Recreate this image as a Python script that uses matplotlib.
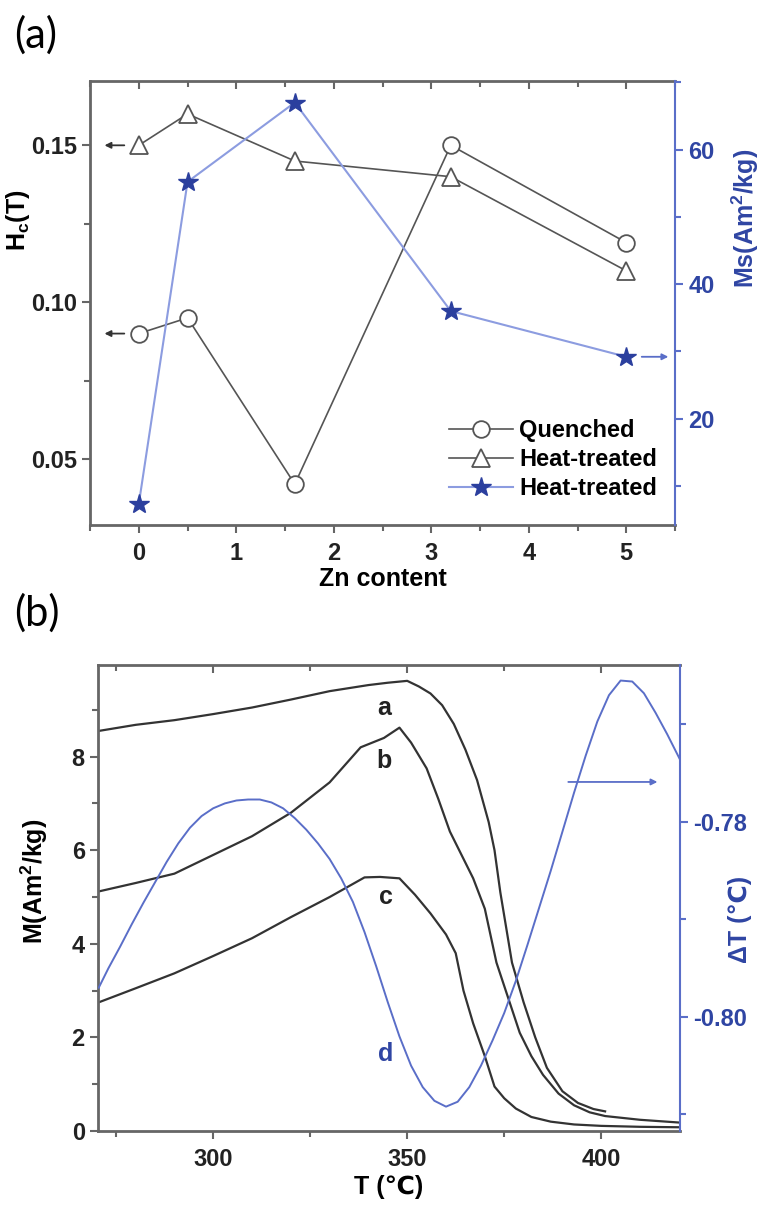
import matplotlib
matplotlib.use('Agg')
import matplotlib.pyplot as plt
from matplotlib.ticker import MultipleLocator, FormatStrFormatter

plt.rcParams['font.family'] = ['Liberation Sans', 'DejaVu Sans']
plt.rcParams['font.weight'] = 'bold'
plt.rcParams['axes.labelweight'] = 'bold'
plt.rcParams['mathtext.fontset'] = 'custom'
plt.rcParams['mathtext.rm'] = 'Liberation Sans:bold'
plt.rcParams['mathtext.bf'] = 'Liberation Sans:bold'
plt.rcParams['mathtext.default'] = 'bf'

# ---- panel (a) data ----
zn = [0, 0.5, 1.6, 3.2, 5]
hc_quenched = [0.090, 0.095, 0.042, 0.150, 0.119]
hc_heat = [0.150, 0.160, 0.145, 0.140, 0.110]
ms_heat = [7.3, 55.2, 67.0, 36.0, 29.2]

# ---- panel (b) data ----
T_a = [270.5, 280, 290, 300, 310, 320, 330, 340, 345, 350, 353, 356, 359, 362,
       365, 368, 371, 372.5, 374, 377, 380, 383, 386, 390, 394, 398, 401]
M_a = [8.55, 8.68, 8.78, 8.91, 9.05, 9.22, 9.40, 9.53, 9.58, 9.62, 9.50, 9.35,
       9.10, 8.70, 8.15, 7.50, 6.60, 6.00, 5.10, 3.60, 2.75, 2.00, 1.35, 0.85,
       0.60, 0.47, 0.42]
T_b = [270.5, 280, 290, 300, 310, 320, 330, 338, 344, 348, 351, 355, 358, 361,
       364, 367, 370, 373, 376, 379, 382, 385, 389, 393, 397, 401, 410, 420.3]
M_b = [5.12, 5.30, 5.50, 5.90, 6.30, 6.80, 7.45, 8.20, 8.40, 8.62, 8.30, 7.75,
       7.10, 6.40, 5.90, 5.40, 4.75, 3.60, 2.85, 2.10, 1.60, 1.20, 0.80, 0.55,
       0.40, 0.32, 0.24, 0.18]
T_c = [270.5, 280, 290, 300, 310, 320, 330, 339, 343, 348, 352, 356, 360, 362.5,
       364.5, 367, 370, 372.5, 375, 378, 382, 387, 393, 400, 410, 420.3]
M_c = [2.75, 3.05, 3.37, 3.74, 4.12, 4.57, 5.00, 5.42, 5.43, 5.40, 5.05, 4.65,
       4.20, 3.80, 3.00, 2.30, 1.60, 0.95, 0.70, 0.48, 0.30, 0.20, 0.14, 0.11,
       0.09, 0.08]
T_d = [270.5, 273, 276, 279, 282, 285, 288, 291, 294, 297, 300, 303, 306, 309,
       312, 315, 318, 321, 324, 327, 330, 333, 336, 339, 342, 345, 348, 351, 354,
       357, 360, 363, 366, 369, 372, 375, 378, 381, 384, 387, 390, 393, 396, 399,
       402, 405, 408, 411, 414, 417, 420.3]
dT_d = [-0.7970, -0.7950, -0.7928, -0.7905, -0.7883, -0.7862, -0.7841, -0.7822,
        -0.7806, -0.7794, -0.7786, -0.7781, -0.7778, -0.7777, -0.7777, -0.7780,
        -0.7786, -0.7796, -0.7808, -0.7822, -0.7838, -0.7858, -0.7882, -0.7913,
        -0.7948, -0.7985, -0.8020, -0.8050, -0.8072, -0.8086, -0.8092, -0.8087,
        -0.8072, -0.8050, -0.8024, -0.7996, -0.7963, -0.7926, -0.7888, -0.7850,
        -0.7810, -0.7770, -0.7732, -0.7697, -0.7670, -0.7655, -0.7656, -0.7668,
        -0.7688, -0.7710, -0.7736]

gray = '#555555'
spine_gray = '#666666'
blue_dark = '#2b3f9e'
blue_line = '#8c9ce0'
blue_axis = '#5a6ec8'
blue_text = '#2f45a3'

fig = plt.figure(figsize=(7.63, 12.09), dpi=100)


def style_axes(ax, right_ax, xmaj, xmin):
    for s in ['left', 'bottom', 'top']:
        ax.spines[s].set_color(spine_gray)
        ax.spines[s].set_linewidth(2)
        right_ax.spines[s].set_visible(False)
    ax.spines['right'].set_visible(False)
    right_ax.spines['right'].set_color(blue_axis)
    right_ax.spines['right'].set_linewidth(1.5)
    ax.tick_params(which='both', direction='out', width=1.5, colors=spine_gray,
                   labelcolor='#222222', labelsize=17, top=False, right=False)
    ax.tick_params(axis='x', pad=6)
    ax.tick_params(which='major', length=6)
    ax.tick_params(which='minor', length=4)
    right_ax.tick_params(which='both', direction='out', width=1.5, colors=blue_axis,
                         labelcolor=blue_text, labelsize=17)
    right_ax.tick_params(which='major', length=6)
    right_ax.tick_params(which='minor', length=4)
    top = ax.secondary_xaxis('top')
    top.xaxis.set_major_locator(MultipleLocator(xmaj))
    top.xaxis.set_minor_locator(MultipleLocator(xmin))
    top.tick_params(which='both', direction='in', labeltop=False, width=1.5,
                    colors=spine_gray)
    top.tick_params(which='major', length=6)
    top.tick_params(which='minor', length=4)
    top.spines['top'].set_visible(False)


# ---------------- panel (a) ----------------
ax1 = fig.add_axes([0.118, 0.5658, 0.7667, 0.3672])
ax1.plot(zn, hc_quenched, color=gray, lw=1.2, marker='o', ms=12, mfc='white',
         mec=gray, mew=1.3, label='Quenched')
ax1.plot(zn, hc_heat, color=gray, lw=1.2, marker='^', ms=13, mfc='white',
         mec=gray, mew=1.3, label='Heat-treated')
ax1.set_xlim(-0.5, 5.5)
ax1.set_ylim(0.029, 0.1705)
ax1.xaxis.set_major_locator(MultipleLocator(1))
ax1.xaxis.set_minor_locator(MultipleLocator(0.5))
ax1.yaxis.set_major_locator(MultipleLocator(0.05))
ax1.yaxis.set_minor_locator(MultipleLocator(0.025))
ax1.yaxis.set_major_formatter(FormatStrFormatter('%.2f'))
ax1.set_xlabel('Zn content', fontsize=18, labelpad=2)
ax1.set_ylabel(r'H$_c$(T)', fontsize=18)
ax1.yaxis.set_label_coords(-0.1, 0.687)

ax1r = ax1.twinx()
ax1r.plot(zn, ms_heat, color=blue_line, lw=1.5, marker='*', ms=15, mfc=blue_dark,
          mec=blue_dark, label='Heat-treated')
ax1r.set_ylim(4.2, 70.2)
ax1r.yaxis.set_major_locator(MultipleLocator(20))
ax1r.yaxis.set_minor_locator(MultipleLocator(10))
ax1r.set_ylabel(r'Ms(Am$^2$/kg)', fontsize=18, color=blue_text)
ax1r.yaxis.set_label_coords(1.093, 0.69)
style_axes(ax1, ax1r, 1, 0.5)

# arrows pointing to the axes
for yv in [hc_heat[0], hc_quenched[0]]:
    ax1.annotate('', xy=(-0.38, yv), xytext=(-0.12, yv),
                 arrowprops=dict(arrowstyle='-|>', color='#333333', lw=1.3,
                                 mutation_scale=9))
ax1r.annotate('', xy=(5.46, ms_heat[-1]), xytext=(5.13, ms_heat[-1]),
              arrowprops=dict(arrowstyle='-|>', color=blue_axis, lw=1.3,
                              mutation_scale=9))

h1, l1 = ax1.get_legend_handles_labels()
h2, l2 = ax1r.get_legend_handles_labels()
ax1r.legend(h1 + h2, l1 + l2, loc='lower right', bbox_to_anchor=(0.985, 0.035),
            frameon=False, fontsize=17, handlelength=2.7, handletextpad=0.25,
            labelspacing=0.25, borderaxespad=0)

fig.text(0.018, 0.971, '(a)', fontsize=30, fontweight='normal',
         family=['Lato', 'DejaVu Sans'], va='center')

# ---------------- panel (b) ----------------
ax2 = fig.add_axes([0.1284, 0.0645, 0.7628, 0.3855])
ax2.plot(T_a, M_a, color='#333333', lw=1.6)
ax2.plot(T_b, M_b, color='#333333', lw=1.6)
ax2.plot(T_c, M_c, color='#333333', lw=1.6)
ax2.set_xlim(270.3, 420.3)
ax2.set_ylim(0, 9.96)
ax2.xaxis.set_major_locator(MultipleLocator(50))
ax2.xaxis.set_minor_locator(MultipleLocator(25))
ax2.yaxis.set_major_locator(MultipleLocator(2))
ax2.yaxis.set_minor_locator(MultipleLocator(1))
ax2.set_xlabel('T (℃)', fontsize=18, labelpad=3)
ax2.set_ylabel(r'M(Am$^2$/kg)', fontsize=18)
ax2.yaxis.set_label_coords(-0.082, 0.535)

ax2r = ax2.twinx()
ax2r.plot(T_d, dT_d, color=blue_axis, lw=1.4)
ax2r.set_ylim(-0.8117, -0.7639)
ax2r.yaxis.set_major_locator(MultipleLocator(0.02))
ax2r.yaxis.set_minor_locator(MultipleLocator(0.01))
ax2r.yaxis.set_major_formatter(FormatStrFormatter('%.2f'))
ax2r.set_ylabel('ΔT (℃)', fontsize=18, color=blue_text)
ax2r.yaxis.set_label_coords(1.083, 0.455)
style_axes(ax2, ax2r, 50, 25)

ax2r.annotate('', xy=(415.2, -0.7759), xytext=(390.8, -0.7759),
              arrowprops=dict(arrowstyle='-|>', color=blue_axis, lw=1.3,
                              mutation_scale=9))

ax2.text(344, 9.05, 'a', fontsize=18, ha='center', va='center', color='#222222')
ax2.text(344, 7.9, 'b', fontsize=18, ha='center', va='center', color='#222222')
ax2.text(344.5, 5.0, 'c', fontsize=18, ha='center', va='center', color='#222222')
ax2.text(344.5, 1.64, 'd', fontsize=18, ha='center', va='center', color=blue_text)

fig.text(0.018, 0.493, '(b)', fontsize=30, fontweight='normal',
         family=['Lato', 'DejaVu Sans'], va='center')

fig.savefig('out.png', dpi=100)
